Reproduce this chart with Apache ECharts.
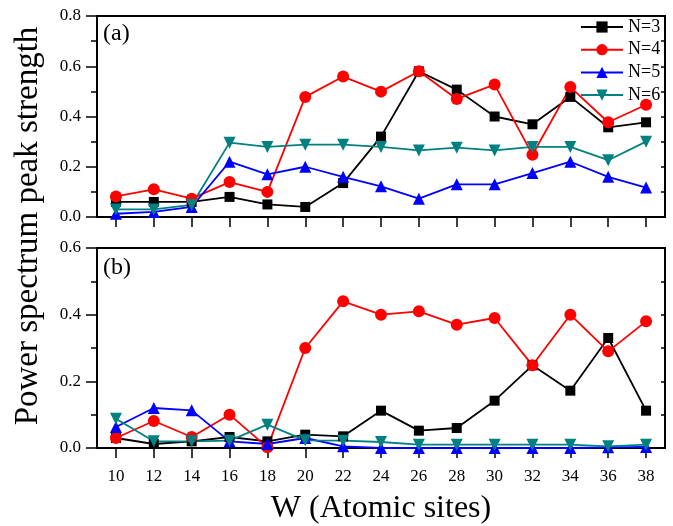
<!DOCTYPE html>
<html>
<head>
<meta charset="utf-8">
<script src="https://cdn.jsdelivr.net/npm/echarts@6/dist/echarts.min.js"></script>
<style>
html,body{margin:0;padding:0;background:#fff;}
#chart{width:673px;height:526px;}
</style>
</head>
<body>
<div id="chart"></div>
<script>
var categories = ['10','12','14','16','18','20','22','24','26','28','30','32','34','36','38'];
var seriesNames = ['N=3','N=4','N=5','N=6'];
// Panel (a)
var a_N3 = [0.06,0.06,0.06,0.08,0.05,0.04,0.135,0.32,0.58,0.507,0.40,0.369,0.478,0.357,0.377];
var a_N4 = [0.082,0.11,0.073,0.139,0.10,0.478,0.559,0.499,0.58,0.47,0.527,0.248,0.517,0.377,0.447];
var a_N5 = [0.013,0.02,0.04,0.22,0.17,0.20,0.16,0.122,0.073,0.13,0.13,0.175,0.22,0.16,0.117];
var a_N6 = [0.03,0.03,0.048,0.296,0.279,0.288,0.288,0.279,0.265,0.276,0.265,0.279,0.279,0.226,0.30];
// Panel (b)
var b_N3 = [0.03,0.012,0.02,0.033,0.02,0.04,0.035,0.112,0.052,0.06,0.142,0.248,0.172,0.33,0.112];
var b_N4 = [0.03,0.081,0.033,0.10,0.002,0.30,0.44,0.40,0.41,0.37,0.39,0.248,0.40,0.29,0.38];
var b_N5 = [0.063,0.12,0.113,0.02,0.012,0.03,0.005,0.0,0.0,0.0,0.0,0.0,0.0,0.002,0.003];
var b_N6 = [0.088,0.02,0.02,0.022,0.07,0.023,0.022,0.018,0.01,0.01,0.01,0.01,0.01,0.005,0.01];

var colors = ['#000000','#ff0000','#0000ff','#008080'];
var symbols = ['rect','circle','triangle','triangle'];
var rotates = [0,0,0,180];
var sizes = [10,12,12,12];
var FONT = 'Liberation Serif';

var chart = echarts.init(document.getElementById('chart'));

function mkSeries(name, data, idx, gi){
  return {
    name: name, type: 'line', data: data,
    xAxisIndex: gi*2, yAxisIndex: gi*2,
    symbol: symbols[idx], symbolSize: sizes[idx], symbolRotate: rotates[idx],
    showAllSymbol: true,
    lineStyle: {color: colors[idx], width: 1.8},
    itemStyle: {color: colors[idx]},
    animation: false
  };
}

function xAx(gi, showLabels){
  return [{
    type: 'category', data: categories, gridIndex: gi, position: 'bottom',
    boundaryGap: true,
    axisLine: {show: false},
    axisTick: {show: true, alignWithLabel: true, length: 10, inside: false, lineStyle: {color: '#000', width: 1.5}},
    axisLabel: {show: showLabels, fontFamily: FONT, fontSize: 17, color: '#000', margin: 20},
    splitLine: {show: false}
  },{
    type: 'category', data: categories, gridIndex: gi, position: 'top',
    boundaryGap: true,
    axisLine: {show: false},
    axisTick: {show: false},
    axisLabel: {show: false},
    splitLine: {show: false}
  }];
}

function yAx(gi, max){
  return [{
    type: 'value', gridIndex: gi, position: 'left', min: 0, max: max, interval: 0.2,
    axisLine: {show: false},
    axisTick: {show: true, length: 11, lineStyle: {color: '#000', width: 1.5}},
    minorTick: {show: true, splitNumber: 2, length: 6, lineStyle: {color: '#000', width: 1.5}},
    axisLabel: {fontFamily: FONT, fontSize: 17, color: '#000', margin: 16,
      formatter: function(v){return v.toFixed(1);}},
    splitLine: {show: false}, minorSplitLine: {show: false}
  },{
    type: 'value', gridIndex: gi, position: 'right', min: 0, max: max, interval: 0.1,
    axisLine: {show: false},
    axisTick: {show: true, inside: true, length: 4, lineStyle: {color: '#000', width: 1.5}},
    axisLabel: {show: false},
    splitLine: {show: false}
  }];
}

var series = [];
[a_N3,a_N4,a_N5,a_N6].forEach(function(d,i){series.push(mkSeries(seriesNames[i], d, i, 0));});
[b_N3,b_N4,b_N5,b_N6].forEach(function(d,i){series.push(mkSeries(seriesNames[i], d, i, 1));});

var option = {
  backgroundColor: '#fff',
  animation: false,
  grid: [
    {left: 97, top: 16, width: 568, height: 201, show: true, borderColor: '#000', borderWidth: 2, backgroundColor: 'transparent'},
    {left: 97, top: 248, width: 568, height: 200, show: true, borderColor: '#000', borderWidth: 2, backgroundColor: 'transparent'}
  ],
  xAxis: xAx(0, false).concat(xAx(1, true)),
  yAxis: yAx(0, 0.8).concat(yAx(1, 0.6)),
  legend: {
    data: seriesNames,
    orient: 'vertical', left: 580, top: 18, padding: 0,
    itemWidth: 42, itemHeight: 14, itemGap: 4.7,
    textStyle: {fontFamily: FONT, fontSize: 18, color: '#000'}
  },
  graphic: [
    {type: 'text', left: 103, top: 22, style: {text: '(a)', fontFamily: FONT, fontSize: 24, fill: '#000'}},
    {type: 'text', left: 103, top: 256, style: {text: '(b)', fontFamily: FONT, fontSize: 24, fill: '#000'}},
    {type: 'text', x: 28, y: 226, rotation: Math.PI/2, style: {text: 'Power spectrum peak strength', fontFamily: FONT, fontSize: 33, fill: '#000', align: 'center', verticalAlign: 'middle'}},
    {type: 'text', x: 381, y: 509, style: {text: 'W (Atomic sites)', fontFamily: FONT, fontSize: 32, fill: '#000', align: 'center', verticalAlign: 'middle'}}
  ],
  series: series
};
chart.setOption(option);
</script>
</body>
</html>
